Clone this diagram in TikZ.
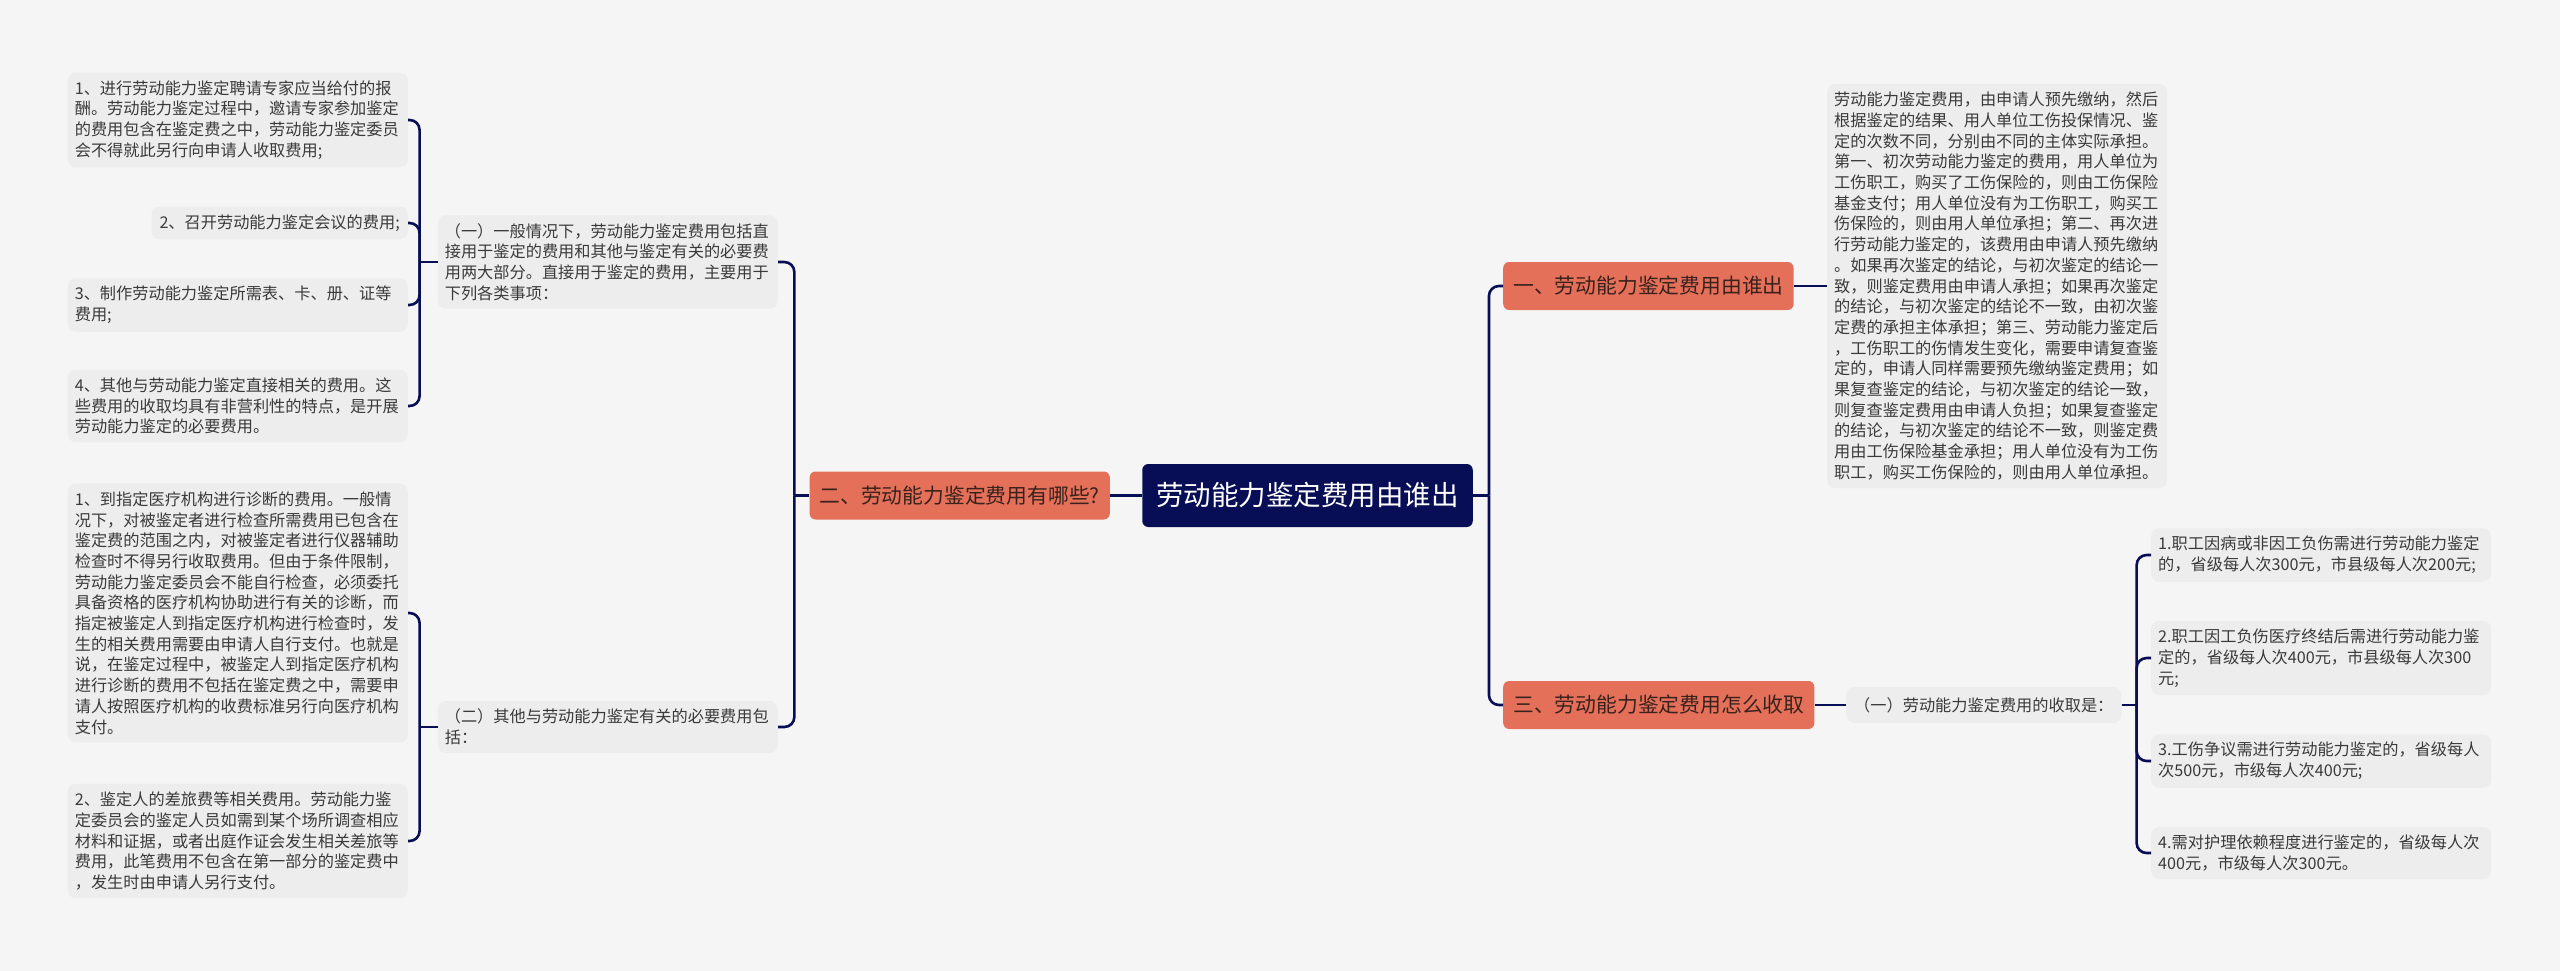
\documentclass[tikz,border=0pt]{standalone}
\usepackage{fontspec}
\setmainfont{Noto Sans CJK SC}
\definecolor{bggray}{HTML}{F5F5F5}
\definecolor{boxgray}{HTML}{EDEDED}
\definecolor{txtgray}{HTML}{3A3A3A}
\definecolor{navy}{HTML}{080E55}
\definecolor{salmon}{HTML}{E4705A}
\definecolor{brown}{HTML}{3A221C}
\tikzset{
  conn/.style={draw=navy, line width=2.6pt},
  leaf/.style={fill=boxgray, rounded corners=8pt, align=left, text width=326pt,
    inner xsep=7pt, inner ysep=8pt, text=txtgray, font=\fontsize{16.2}{20.7}\selectfont},
  leafshort/.style={fill=boxgray, rounded corners=8pt, align=left,
    inner xsep=8pt, inner ysep=8pt, text=txtgray, font=\fontsize{16.2}{20.7}\selectfont},
  topic/.style={fill=salmon, rounded corners=6pt, text=brown, minimum height=48pt,
    inner xsep=10pt, font=\fontsize{20.8}{24}\selectfont},
  root/.style={fill=navy, rounded corners=6pt, text=white, minimum height=63pt,
    inner xsep=14pt, font=\fontsize{27.5}{30}\selectfont}
}
\begin{document}
\begin{tikzpicture}[x=1pt, y=-1pt]
  \fill[bggray] (0,0) rectangle (2560,971);
  \useasboundingbox (0,0) rectangle (2560,971);

  % 中心
  \node[root] (root) at (1307.5,495.5) {劳动能力鉴定费用由谁出};

  % 一级主题
  \node[topic, anchor=east] (two) at (1110,495.5) {二、劳动能力鉴定费用有哪些?};
  \node[topic, anchor=west] (one) at (1503,286) {一、劳动能力鉴定费用由谁出};
  \node[topic, anchor=west] (three) at (1503,705) {三、劳动能力鉴定费用怎么收取};

  % 左侧：费用有哪些
  \node[leaf, anchor=east] (twoA) at (778,262) {（一）一般情况下，劳动能力鉴定费用包括直\\接用于鉴定的费用和其他与鉴定有关的必要费\\用两大部分。直接用于鉴定的费用，主要用于\\下列各类事项：};
  \node[leaf, anchor=east] (twoB) at (778,727) {（二）其他与劳动能力鉴定有关的必要费用包\\括：};

  \node[leaf, anchor=east] (a1) at (408,120) {1、进行劳动能力鉴定聘请专家应当给付的报\\酬。劳动能力鉴定过程中，邀请专家参加鉴定\\的费用包含在鉴定费之中，劳动能力鉴定委员\\会不得就此另行向申请人收取费用;};
  \node[leafshort, anchor=east] (a2) at (408,223) {2、召开劳动能力鉴定会议的费用;};
  \node[leaf, anchor=east] (a3) at (408,305) {3、制作劳动能力鉴定所需表、卡、册、证等\\费用;};
  \node[leaf, anchor=east] (a4) at (408,406) {4、其他与劳动能力鉴定直接相关的费用。这\\些费用的收取均具有非营利性的特点，是开展\\劳动能力鉴定的必要费用。};

  \node[leaf, anchor=east] (b1) at (408,613) {1、到指定医疗机构进行诊断的费用。一般情\\况下，对被鉴定者进行检查所需费用已包含在\\鉴定费的范围之内，对被鉴定者进行仪器辅助\\检查时不得另行收取费用。但由于条件限制，\\劳动能力鉴定委员会不能自行检查，必须委托\\具备资格的医疗机构协助进行有关的诊断，而\\指定被鉴定人到指定医疗机构进行检查时，发\\生的相关费用需要由申请人自行支付。也就是\\说，在鉴定过程中，被鉴定人到指定医疗机构\\进行诊断的费用不包括在鉴定费之中，需要申\\请人按照医疗机构的收费标准另行向医疗机构\\支付。};
  \node[leaf, anchor=east] (b2) at (408,841) {2、鉴定人的差旅费等相关费用。劳动能力鉴\\定委员会的鉴定人员如需到某个场所调查相应\\材料和证据，或者出庭作证会发生相关差旅等\\费用，此笔费用不包含在第一部分的鉴定费中\\，发生时由申请人另行支付。};

  % 右侧：由谁出
  \node[leaf, anchor=west] (oneA) at (1827,286) {劳动能力鉴定费用，由申请人预先缴纳，然后\\根据鉴定的结果、用人单位工伤投保情况、鉴\\定的次数不同，分别由不同的主体实际承担。\\第一、初次劳动能力鉴定的费用，用人单位为\\工伤职工，购买了工伤保险的，则由工伤保险\\基金支付；用人单位没有为工伤职工，购买工\\伤保险的，则由用人单位承担；第二、再次进\\行劳动能力鉴定的，该费用由申请人预先缴纳\\。如果再次鉴定的结论，与初次鉴定的结论一\\致，则鉴定费用由申请人承担；如果再次鉴定\\的结论，与初次鉴定的结论不一致，由初次鉴\\定费的承担主体承担；第三、劳动能力鉴定后\\，工伤职工的伤情发生变化，需要申请复查鉴\\定的，申请人同样需要预先缴纳鉴定费用；如\\果复查鉴定的结论，与初次鉴定的结论一致，\\则复查鉴定费用由申请人负担；如果复查鉴定\\的结论，与初次鉴定的结论不一致，则鉴定费\\用由工伤保险基金承担；用人单位没有为工伤\\职工，购买工伤保险的，则由用人单位承担。};

  % 右侧：怎么收取
  \node[leafshort, anchor=west, minimum height=36pt] (threeA) at (1846,705) {（一）劳动能力鉴定费用的收取是：};
  \node[leaf, anchor=west] (c1) at (2151,555) {1.职工因病或非因工负伤需进行劳动能力鉴定\\的，省级每人次300元，市县级每人次200元;};
  \node[leaf, anchor=west] (c2) at (2151,658) {2.职工因工负伤医疗终结后需进行劳动能力鉴\\定的，省级每人次400元，市县级每人次300\\元;};
  \node[leaf, anchor=west] (c3) at (2151,761) {3.工伤争议需进行劳动能力鉴定的，省级每人\\次500元，市级每人次400元;};
  \node[leaf, anchor=west] (c4) at (2151,853) {4.需对护理依赖程度进行鉴定的，省级每人次\\400元，市级每人次300元。};

  % 连线
  \draw[conn] (root.west) -- (two.east);
  \draw[conn] (root.east) -- ++(16,0) coordinate (rootR);
  \foreach \c in {one,three}
    \draw[conn, rounded corners=10pt] (rootR) |- (\c.west);
  \draw[conn] (one.east) -- (oneA.west);
  \draw[conn] (three.east) -- (threeA.west);

  \draw[conn] (two.west) -- ++(-15,0) coordinate (twoL);
  \foreach \c in {twoA,twoB}
    \draw[conn, rounded corners=10pt] (twoL) |- (\c.east);

  \draw[conn] (twoA.west) -- ++(-18,0) coordinate (twoAL);
  \foreach \c in {a1,a2,a3,a4}
    \draw[conn, rounded corners=10pt] (twoAL) |- (\c.east);

  \draw[conn] (twoB.west) -- ++(-18,0) coordinate (twoBL);
  \foreach \c in {b1,b2}
    \draw[conn, rounded corners=10pt] (twoBL) |- (\c.east);

  \draw[conn] (threeA.east) -- ++(15,0) coordinate (threeAR);
  \foreach \c in {c1,c2,c3,c4}
    \draw[conn, rounded corners=10pt] (threeAR) |- (\c.west);
\end{tikzpicture}
\end{document}
